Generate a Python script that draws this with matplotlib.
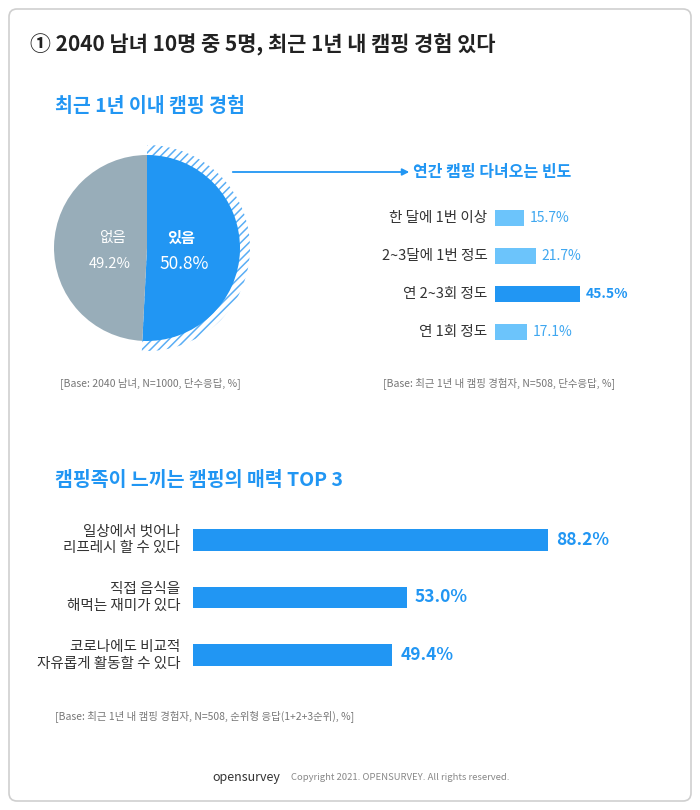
import matplotlib.pyplot as plt
from matplotlib.patches import FancyBboxPatch

plt.rcParams['font.family'] = ['Noto Sans CJK KR', 'DejaVu Sans']
plt.rcParams['hatch.linewidth'] = 1.1

W, H = 700, 810
BLUE = '#2196f3'
LIGHT = '#6cc4fb'
GRAY = '#98adb9'

pie_labels = ['있음', '없음']
pie_values = [50.8, 49.2]

freq_labels = ['한 달에 1번 이상', '2~3달에 1번 정도', '연 2~3회 정도', '연 1회 정도']
freq_values = [15.7, 21.7, 45.5, 17.1]

top_labels = ['일상에서 벗어나\n리프레시 할 수 있다', '직접 음식을\n해먹는 재미가 있다', '코로나에도 비교적\n자유롭게 활동할 수 있다']
top_values = [88.2, 53.0, 49.4]

fig = plt.figure(figsize=(7, 8.1), dpi=100)
bg = fig.add_axes([0, 0, 1, 1])
bg.set_xlim(0, W)
bg.set_ylim(H, 0)
bg.axis('off')

def box(x0, y0, x1, y1):
    # pixel box -> figure fraction
    return [x0 / W, 1 - y1 / H, (x1 - x0) / W, (y1 - y0) / H]

bg.add_patch(FancyBboxPatch((9, 9), 682, 792, boxstyle='round,pad=0,rounding_size=8',
                            fc='white', ec='#cfcfcf', lw=1.2))

bg.text(30, 45, '① 2040 남녀 10명 중 5명, 최근 1년 내 캠핑 경험 있다', fontsize=15,
        fontweight='bold', color='#222222', va='center')
bg.text(55, 106, '최근 1년 이내 캠핑 경험', fontsize=14, fontweight='bold', color=BLUE, va='center')
bg.text(413, 172, '연간 캠핑 다녀오는 빈도', fontsize=11.5, fontweight='bold', color=BLUE, va='center')
bg.text(55, 480, '캠핑족이 느끼는 캠핑의 매력 TOP 3', fontsize=14, fontweight='bold', color=BLUE, va='center')

bg.annotate('', xy=(412, 172), xytext=(230, 172),
            arrowprops=dict(arrowstyle='-|>', color=BLUE, lw=1.3, mutation_scale=10))

# pie
pax = fig.add_axes(box(37, 138, 257, 358))
pax.set_xlim(-1.1, 1.1)
pax.set_ylim(-1.1, 1.1)
pax.set_aspect('equal')
pax.axis('off')
hw, _ = pax.pie([pie_values[0], pie_values[1]], radius=1.03, startangle=90, counterclock=False,
                colors=['white', 'none'], wedgeprops=dict(lw=0))
hw[0].set_hatch('////')
hw[0].set_edgecolor('#5aaef5')
hw[1].set_visible(False)
pax.pie(pie_values, radius=0.93, startangle=90, counterclock=False,
        colors=[BLUE, GRAY], wedgeprops=dict(lw=0))
pax.set_xlim(-1.1, 1.1)
pax.set_ylim(-1.1, 1.1)
pax.text(0.34, 0.1, pie_labels[0], color='white', fontsize=11, fontweight='bold', ha='center', va='center')
pax.text(0.37, -0.16, f'{pie_values[0]}%', color='white', fontsize=12.5, ha='center', va='center')
pax.text(-0.35, 0.1, pie_labels[1], color='white', fontsize=10.5, ha='center', va='center')
pax.text(-0.37, -0.16, f'{pie_values[1]}%', color='white', fontsize=10.5, ha='center', va='center')

# frequency bars
fax = fig.add_axes(box(495, 199, 680, 351))
fax.set_xlim(0, 99)
fax.set_ylim(len(freq_values) - 0.5, -0.5)
fax.axis('off')
fcolors = [BLUE if v == max(freq_values) else LIGHT for v in freq_values]
fax.barh(range(len(freq_values)), freq_values, height=0.42, color=fcolors)
for i, (lab, v) in enumerate(zip(freq_labels, freq_values)):
    fax.text(-4, i, lab, ha='right', va='center', fontsize=10.5, color='#333333')
    big = v == max(freq_values)
    fax.text(v + 3, i, f'{v}%', ha='left', va='center', fontsize=10,
             fontweight='bold' if big else 'normal', color=BLUE if big else '#3fa7f0')

# top3 bars
tax = fig.add_axes(box(193, 511, 650, 684))
tax.set_xlim(0, 113.4)
tax.set_ylim(len(top_values) - 0.5, -0.5)
tax.axis('off')
tax.barh(range(len(top_values)), top_values, height=0.38, color=BLUE)
for i, (lab, v) in enumerate(zip(top_labels, top_values)):
    tax.text(-3.2, i, lab, ha='right', va='center', fontsize=10.5, color='#333333', linespacing=1.25)
    tax.text(v + 2, i, f'{v:.1f}%', ha='left', va='center', fontsize=12.5, fontweight='bold', color=BLUE)

bg.text(60, 383, '[Base: 2040 남녀, N=1000, 단수응답, %]', fontsize=7.5, color='#777777', va='center')
bg.text(383, 383, '[Base: 최근 1년 내 캠핑 경험자, N=508, 단수응답, %]', fontsize=7.5, color='#777777', va='center')
bg.text(55, 716, '[Base: 최근 1년 내 캠핑 경험자, N=508, 순위형 응답(1+2+3순위), %]', fontsize=7.5,
        color='#777777', va='center')

bg.text(212, 777, 'opensurvey', fontsize=9, color='#333333', va='center')
bg.text(291, 777, 'Copyright 2021. OPENSURVEY. All rights reserved.', fontsize=6.8, color='#888888', va='center')

fig.savefig('out.png', dpi=100, facecolor='white')
